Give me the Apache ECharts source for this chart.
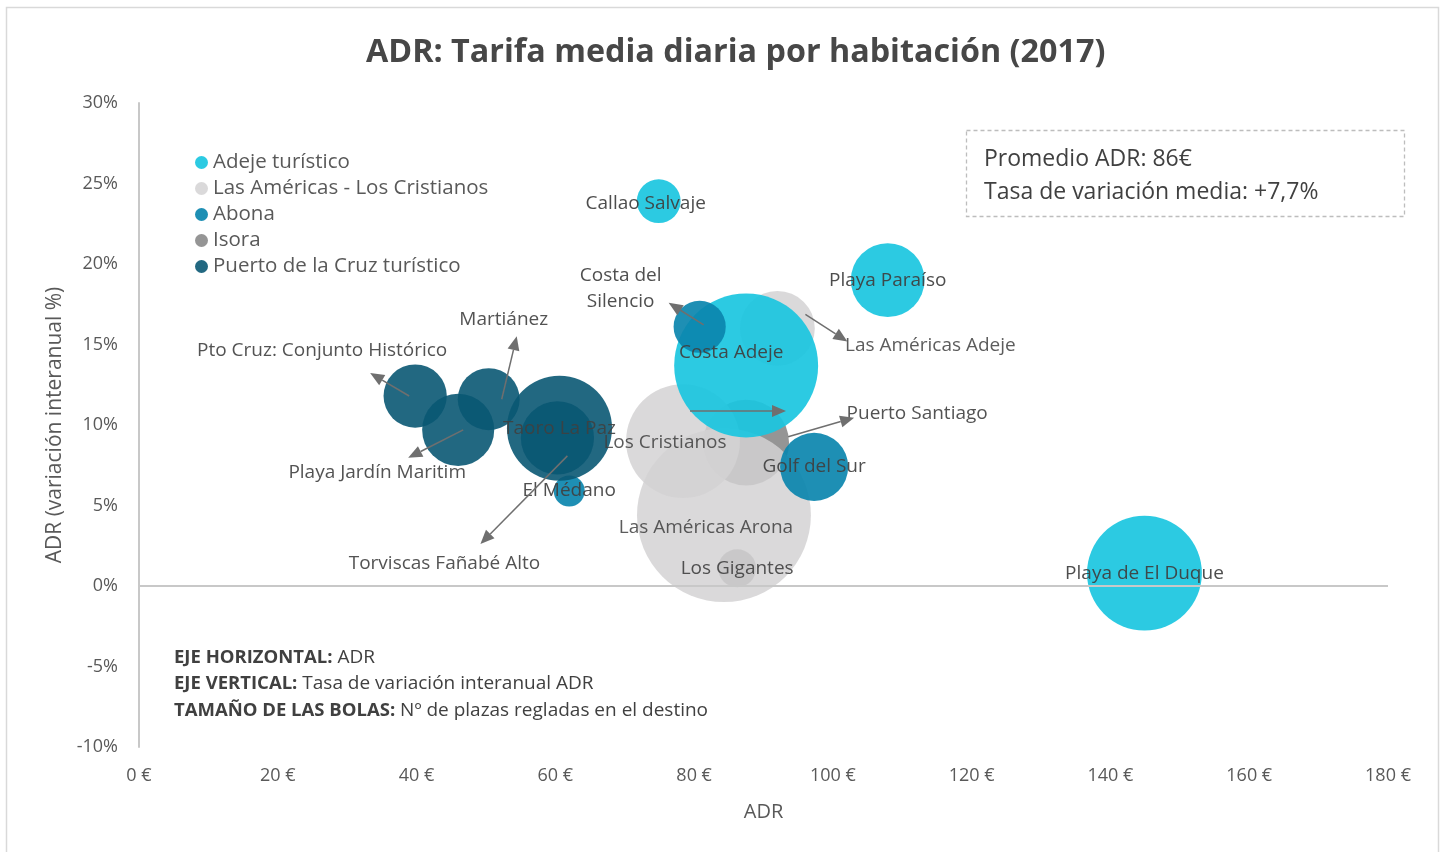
<!DOCTYPE html>
<html>
<head>
<meta charset="utf-8">
<script src="https://cdn.jsdelivr.net/npm/echarts@6/dist/echarts.min.js"></script>
<style>
    html, body { margin: 0; padding: 0; background: #fff; }
    #chart-adr { width: 1443px; height: 852px; }
</style>
</head>
<body>
<div id="chart-adr"></div>
<script>
// datos: destinos, zona, ADR (€), variación interanual (%), plazas regladas
var names = ['Puerto Santiago', 'Los Gigantes',
             'Los Cristianos', 'Las Américas Arona', 'Las Américas Adeje',
             'Callao Salvaje', 'Playa Paraíso', 'Costa Adeje', 'Playa de El Duque',
             'Costa del Silencio', 'Golf del Sur', 'El Médano',
             'Pto Cruz: Conjunto Histórico', 'Playa Jardín Maritim', 'Martiánez', 'Taoro La Paz', 'Torviscas Fañabé Alto'];
var zones = ['Isora', 'Isora',
             'Las Américas - Los Cristianos', 'Las Américas - Los Cristianos', 'Las Américas - Los Cristianos',
             'Adeje turístico', 'Adeje turístico', 'Adeje turístico', 'Adeje turístico',
             'Abona', 'Abona', 'Abona',
             'Puerto de la Cruz turístico', 'Puerto de la Cruz turístico', 'Puerto de la Cruz turístico',
             'Puerto de la Cruz turístico', 'Puerto de la Cruz turístico'];
var adr = [87.5, 86.2,
           78.4, 84.3, 92.0,
           74.9, 107.9, 87.5, 144.9,
           80.8, 97.3, 62.0,
           39.8, 46.0, 50.4, 60.6, 60.3];
var variation = [8.9, 1.1,
                 9.0, 4.4, 16.0,
                 23.9, 19.0, 13.7, 0.8,
                 16.1, 7.4, 5.9,
                 11.8, 9.7, 11.6, 9.8, 9.2];
var plazas = [9200, 1800,
              16200, 37800, 7000,
              2400, 6800, 25900, 16500,
              3400, 5800, 1200,
              5000, 6500, 4800, 13800, 6700];

var legendOrder = ['Adeje turístico', 'Las Américas - Los Cristianos', 'Abona', 'Isora', 'Puerto de la Cruz turístico'];
// orden de dibujo (las últimas encima)
var drawOrder = ['Isora', 'Las Américas - Los Cristianos', 'Adeje turístico', 'Abona', 'Puerto de la Cruz turístico'];

var zoneColors = {
    'Adeje turístico': '#1cc6e0',
    'Las Américas - Los Cristianos': '#d3d2d3',
    'Abona': '#0b86ae',
    'Isora': '#8a8a8a',
    'Puerto de la Cruz turístico': '#0a5873'
};
var zoneOpacity = {
    'Adeje turístico': 0.93,
    'Las Américas - Los Cristianos': 0.85,
    'Abona': 0.92,
    'Isora': 0.9,
    'Puerto de la Cruz turístico': 0.9
};

// posición de etiquetas (px respecto al centro) y flechas [x0, y0, x1, y1]
var placement = {
    'Puerto Santiago':              { dx: 171, dy: -29, arrow: [42, -6, 108, -25] },
    'Los Cristianos':               { dx: -18, dy: 1, arrow: [7, -30, 103, -30] },
    'Las Américas Arona':           { dx: -18, dy: 12 },
    'Las Américas Adeje':           { dx: 153, dy: 17, arrow: [28, -14, 70, 13] },
    'Callao Salvaje':               { dx: -13, dy: 2 },
    'Costa Adeje':                  { dx: -15, dy: -13 },
    'Costa del Silencio':           { dx: -79, dy: -38, arrow: [4, -2, -31, -24], text: 'Costa del\nSilencio' },
    'Pto Cruz: Conjunto Histórico': { dx: -93, dy: -45, arrow: [-6, 0, -45, -23] },
    'Playa Jardín Maritim':         { dx: -81, dy: 43, arrow: [5, 0, -50, 28] },
    'Martiánez':                    { dx: 15, dy: -80, arrow: [13, 0, 28, -63] },
    'Torviscas Fañabé Alto':        { dx: -113, dy: 126, arrow: [10, 18, -77, 106] }
};

var font = '"Open Sans", "DejaVu Sans", sans-serif';
var dom = document.getElementById('chart-adr');
var myChart = echarts.init(dom);

function $each(arr, fn) { for (var k = 0; k < arr.length; k++) fn(arr[k], k); }

var seriesObj = [];
$each(drawOrder, function(zone) {
    var data = [];
    for (var i = 0; i < names.length; i++) {
        if (zones[i] !== zone) continue;
        var p = placement[names[i]] || { dx: 0, dy: 0 };
        data.push({
            name: names[i],
            value: [adr[i], variation[i], plazas[i]],
            label: { offset: [p.dx, p.dy] }
        });
    }
    seriesObj.push({
        name: zone,
        type: 'scatter',
        data: data,
        symbolSize: function(v) { return 2 * Math.sqrt(v[2] / 5); },
        itemStyle: { color: zoneColors[zone], opacity: zoneOpacity[zone] },
        emphasis: { disabled: true },
        label: {
            show: true,
            position: 'inside',
            fontFamily: font,
            fontSize: 19,
            color: '#404040',
            lineHeight: 26,
            align: 'center',
            formatter: function(params) {
                var p = placement[params.name];
                return (p && p.text) ? p.text : params.name;
            }
        }
    });
});

// línea del 0%
seriesObj[0].markLine = {
    silent: true,
    symbol: 'none',
    label: { show: false },
    lineStyle: { color: '#c8c8c8', width: 2, type: 'solid' },
    data: [{ yAxis: 0 }]
};

var option = {
    animation: false,
    textStyle: { fontFamily: font },
    title: {
        text: 'ADR: Tarifa media diaria por habitación (2017)',
        left: 361,
        top: 32,
        textStyle: { fontFamily: font, fontSize: 32.3, fontWeight: 'bold', color: '#474747' }
    },
    legend: {
        data: legendOrder,
        orient: 'vertical',
        left: 190,
        top: 147,
        icon: 'circle',
        itemWidth: 13,
        itemHeight: 13,
        itemGap: 5,
        selectedMode: false,
        textStyle: { fontFamily: font, fontSize: 20.5, lineHeight: 20, color: '#595959' }
    },
    grid: { left: 139, right: 55, top: 103, bottom: 105 },
    xAxis: {
        type: 'value',
        min: 0, max: 180, interval: 20,
        name: 'ADR',
        nameLocation: 'middle',
        nameGap: 55,
        nameTextStyle: { fontFamily: font, fontSize: 20, color: '#595959' },
        axisLine: { show: false },
        axisTick: { show: false },
        splitLine: { show: false },
        axisLabel: { formatter: '{value} €', margin: 20, fontFamily: font, fontSize: 18, color: '#595959' }
    },
    yAxis: {
        type: 'value',
        min: -10, max: 30, interval: 5,
        name: 'ADR (variación interanual %)',
        nameLocation: 'middle',
        nameGap: 73,
        nameTextStyle: { fontFamily: font, fontSize: 21, color: '#595959' },
        axisLine: { show: true, lineStyle: { color: '#c8c8c8', width: 2 } },
        axisTick: { show: false },
        splitLine: { show: false },
        axisLabel: { formatter: '{value}%', margin: 21, fontFamily: font, fontSize: 18, color: '#595959' }
    },
    series: seriesObj
};
myChart.setOption(option);

// flechas, recuadro de promedios, notas y borde
var graphics = [{
    type: 'rect',
    shape: { x: 6.5, y: 7.5, width: 1432, height: 870 },
    style: { fill: 'none', stroke: '#d9d9d9', lineWidth: 1.5 },
    silent: true
}, {
    type: 'rect',
    shape: { x: 966.5, y: 130.5, width: 438, height: 86 },
    style: { fill: 'none', stroke: '#bdbdbd', lineWidth: 1.3, lineDash: [4, 3] },
    silent: true
}, {
    type: 'text',
    left: 984, top: 143,
    style: { text: 'Promedio ADR: 86€\nTasa de variación media: +7,7%', font: '23px ' + font, fill: '#404040', lineHeight: 33 },
    silent: true
}, {
    type: 'text',
    left: 174, top: 644,
    style: {
        text: '{b|EJE HORIZONTAL:} ADR\n{b|EJE VERTICAL:} Tasa de variación interanual ADR\n{b|TAMAÑO DE LAS BOLAS:} Nº de plazas regladas en el destino',
        font: '19px ' + font, fill: '#404040', lineHeight: 26.5,
        rich: { b: { fontWeight: 'bold', fontSize: 18.5, fontFamily: font, fill: '#404040' } }
    },
    silent: true
}];

for (var i = 0; i < names.length; i++) {
    var p = placement[names[i]];
    if (!p || !p.arrow) continue;
    var si = drawOrder.indexOf(zones[i]);
    var c = myChart.convertToPixel({ seriesIndex: si }, [adr[i], variation[i]]);
    var x0 = c[0] + p.arrow[0], y0 = c[1] + p.arrow[1];
    var x1 = c[0] + p.arrow[2], y1 = c[1] + p.arrow[3];
    var ang = Math.atan2(y1 - y0, x1 - x0);
    var len = 14, half = 6;
    var bx = x1 - len * Math.cos(ang), by = y1 - len * Math.sin(ang);
    graphics.push({
        type: 'line',
        shape: { x1: x0, y1: y0, x2: bx, y2: by },
        style: { stroke: '#6f6f6f', lineWidth: 1.5 },
        z: 100, silent: true
    });
    graphics.push({
        type: 'polygon',
        shape: { points: [[x1, y1],
            [bx + half * Math.sin(ang), by - half * Math.cos(ang)],
            [bx - half * Math.sin(ang), by + half * Math.cos(ang)]] },
        style: { fill: '#6f6f6f' },
        z: 100, silent: true
    });
}
myChart.setOption({ graphic: graphics });

window.onresize = function() {
    myChart.resize();
};
</script>
</body>
</html>
